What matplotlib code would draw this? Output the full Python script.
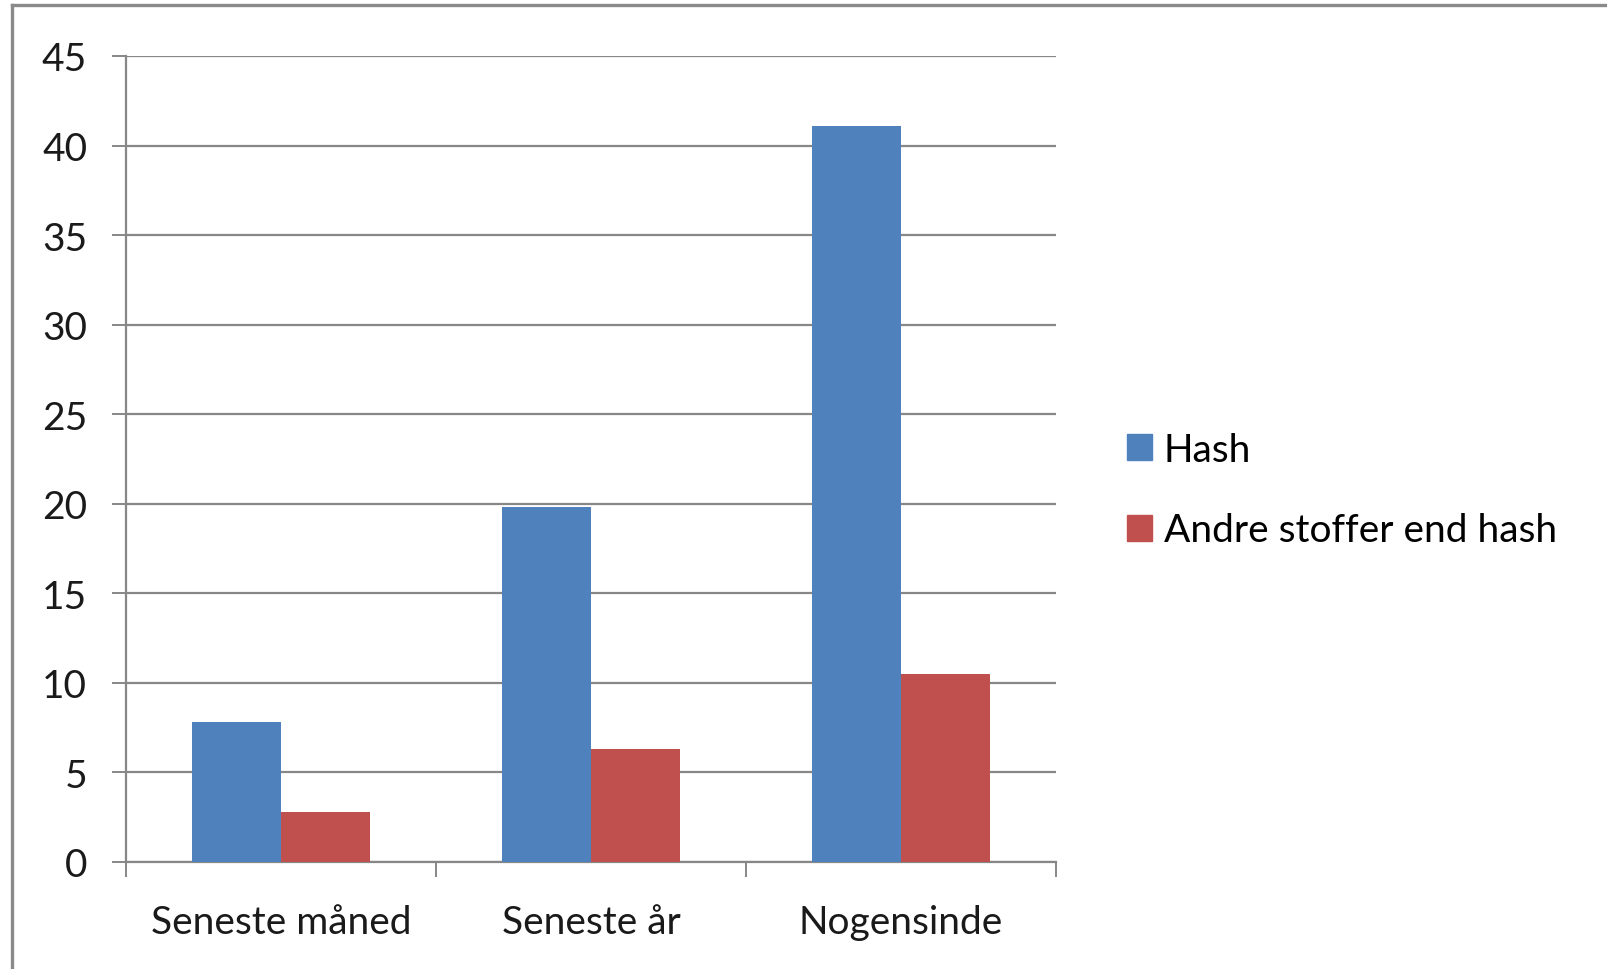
import matplotlib
matplotlib.use("Agg")
import matplotlib.pyplot as plt
from matplotlib.patches import Patch
from matplotlib.lines import Line2D
import numpy as np

categories = ["Seneste måned", "Seneste år", "Nogensinde"]
hash_vals = [7.8, 19.8, 41.1]
andre_vals = [2.8, 6.3, 10.5]
series_names = ["Hash", "Andre stoffer end hash"]
yticks = [0, 5, 10, 15, 20, 25, 30, 35, 40, 45]

plt.rcParams['font.family'] = ['Lato', 'DejaVu Sans']
W, H = 1607, 970
fig = plt.figure(figsize=(W / 100, H / 100), dpi=100)
ax = fig.add_axes([126 / W, 1 - 863 / H, 930 / W, 806 / H])

blue = "#4F81BD"
red = "#C0504D"
grid = "#878787"
fs = 28
bw = 0.2857
x = np.arange(len(categories))
ax.bar(x - bw / 2, hash_vals, width=bw, color=blue, zorder=3, label=series_names[0])
ax.bar(x + bw / 2, andre_vals, width=bw, color=red, zorder=3, label=series_names[1])

ax.set_xlim(-0.5, len(categories) - 0.5)
ax.set_ylim(0, 45)
ax.set_yticks(yticks)
ax.set_yticklabels([str(v) for v in yticks], fontsize=fs, color="#1a1a1a")
ax.yaxis.grid(True, color=grid, linewidth=1.6, zorder=0)
ax.set_axisbelow(True)

ax.set_xticks(np.arange(-0.5, len(categories), 1.0))
ax.set_xticklabels([])
ax.set_xticks(x, minor=True)
ax.set_xticklabels(categories, minor=True, fontsize=fs, color="#1a1a1a")
ax.tick_params(axis='x', which='minor', length=0, pad=30)
ax.tick_params(axis='x', which='major', length=11, width=1.4, color=grid, direction='out')
ax.tick_params(axis='y', length=10, width=1.4, color=grid, direction='out', pad=18)

for s in ["top", "right"]:
    ax.spines[s].set_visible(False)
for s in ["left", "bottom"]:
    ax.spines[s].set_color(grid)
    ax.spines[s].set_linewidth(1.6)

handles = [Patch(facecolor=blue, edgecolor=blue), Patch(facecolor=red, edgecolor=red)]
fig.legend(handles, series_names, loc='center left', bbox_to_anchor=(1127 / W, 1 - 491 / H),
           frameon=False, fontsize=fs, handlelength=0.65, handleheight=0.65,
           handletextpad=0.3, labelspacing=1.15, borderpad=0, borderaxespad=0)

# outer chart frame (partially cropped in the original)
fig.add_artist(Line2D([11.5 / W, 11.5 / W], [0, 1 - 5.5 / H], transform=fig.transFigure,
                      color="#8a8a8a", linewidth=2.4))
fig.add_artist(Line2D([11.5 / W, 1], [1 - 5.5 / H, 1 - 5.5 / H], transform=fig.transFigure,
                      color="#8a8a8a", linewidth=2.4))

fig.savefig("out.png", dpi=100)
